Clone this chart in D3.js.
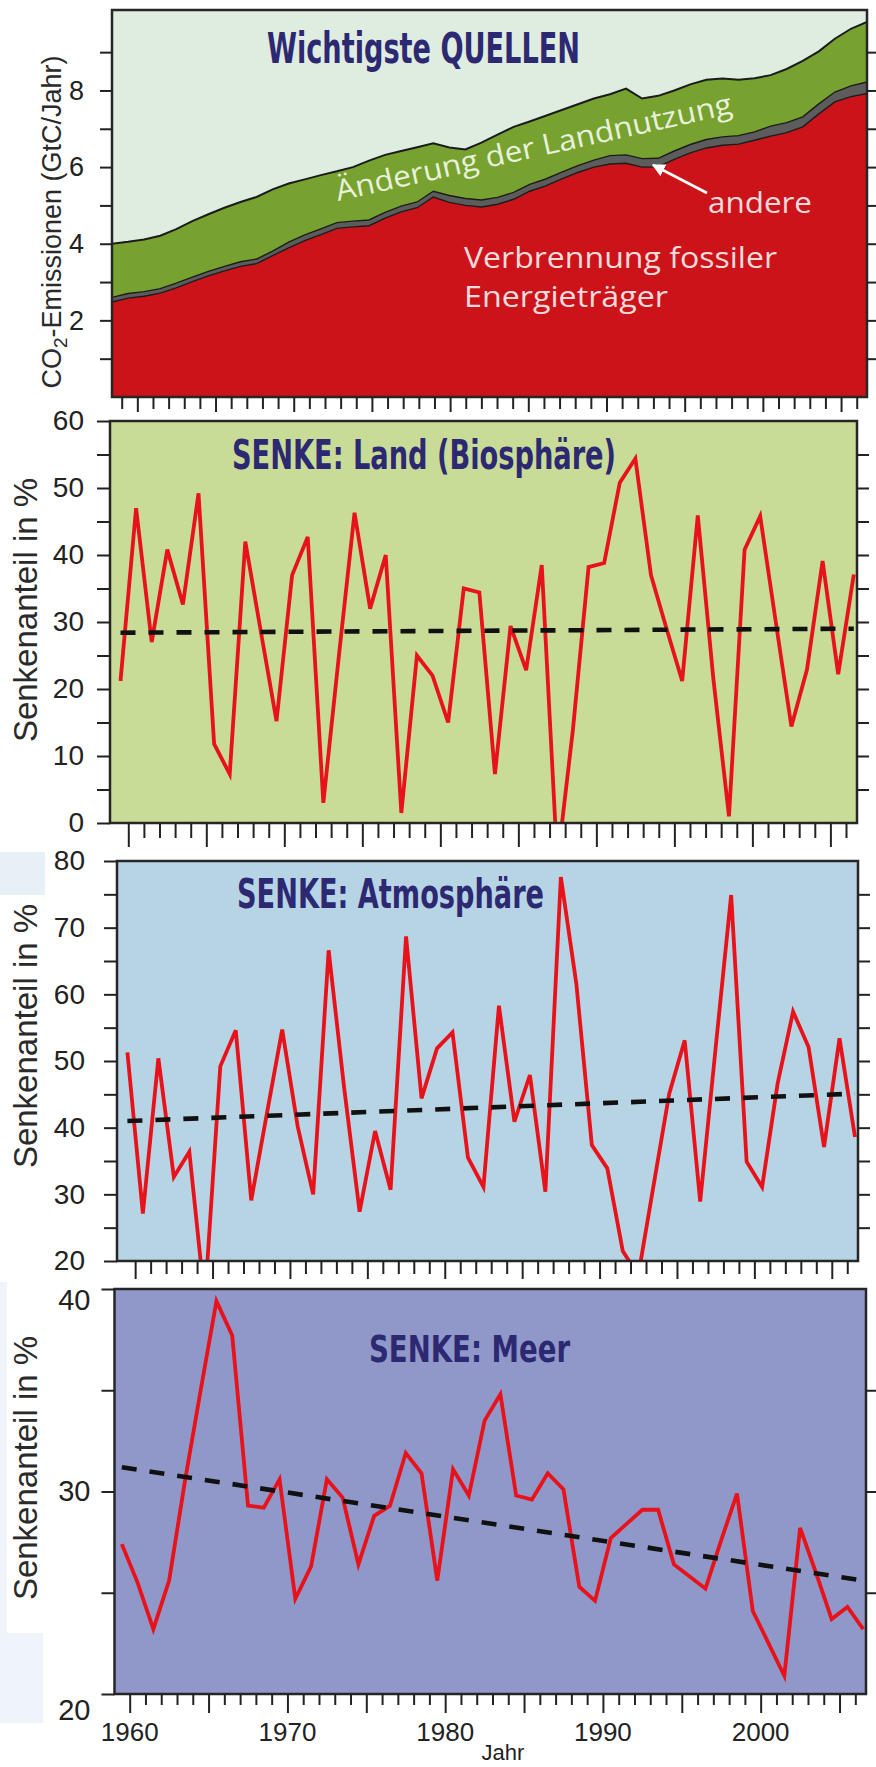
<!DOCTYPE html>
<html>
<head>
<meta charset="utf-8">
<script src="https://cdn.jsdelivr.net/npm/d3@7"></script>
<style>
  html, body { margin: 0; padding: 0; background: #fff; }
  svg { display: block; }
</style>
</head>
<body>
<svg id="chart" width="876" height="1767"></svg>
<script>
// ---- data -------------------------------------------------------------
const firstYear = 1959
const lastYear = 2006
const years = d3.range(firstYear, lastYear + 1)

// Sources, GtC per year (stacked: fossil, other, land use change)
const fossil = [2.48, 2.58, 2.63, 2.71, 2.85, 3.01, 3.16, 3.29, 3.41, 3.48, 3.69,
  3.89, 4.08, 4.24, 4.40, 4.44, 4.47, 4.67, 4.83, 4.94, 5.22,
  5.08, 5.00, 4.96, 5.03, 5.16, 5.37, 5.51, 5.69, 5.86, 6.00,
  6.08, 6.10, 6.00, 6.01, 6.20, 6.37, 6.50, 6.57, 6.60, 6.70,
  6.81, 6.90, 7.05, 7.39, 7.70, 7.84, 7.92]
const andere = [0.12, 0.12, 0.12, 0.12, 0.12, 0.12, 0.12, 0.12, 0.12, 0.12, 0.12,
  0.15, 0.15, 0.15, 0.15, 0.15, 0.15, 0.15, 0.15, 0.15, 0.15,
  0.18, 0.18, 0.18, 0.18, 0.18, 0.18, 0.18, 0.18, 0.18, 0.18,
  0.22, 0.22, 0.22, 0.22, 0.22, 0.22, 0.22, 0.22, 0.22, 0.22,
  0.26, 0.26, 0.26, 0.26, 0.26, 0.28, 0.30]
const landUse = [1.40, 1.35, 1.36, 1.38, 1.41, 1.46, 1.49, 1.53, 1.56, 1.62, 1.61,
  1.53, 1.45, 1.40, 1.34, 1.41, 1.55, 1.50, 1.44, 1.43, 1.25,
  1.25, 1.28, 1.50, 1.64, 1.71, 1.64, 1.65, 1.62, 1.60, 1.61,
  1.60, 1.73, 1.57, 1.63, 1.58, 1.57, 1.56, 1.52, 1.46, 1.40,
  1.33, 1.40, 1.46, 1.37, 1.39, 1.49, 1.57]

// Sink shares in %
const landSink = [21.2, 47.0, 27.0, 40.8, 32.6, 49.2, 11.8, 7.3, 42.0, 28.5, 15.2,
  37.0, 42.7, 3.0, 25.0, 46.3, 32.0, 40.0, 1.5, 25.0, 22.0,
  15.0, 35.0, 34.4, 7.3, 29.4, 22.8, 38.5, -6.0, 14.0, 38.2,
  38.8, 50.8, 54.4, 37.0, 29.0, 21.2, 45.9, 21.5, 1.0, 40.8,
  45.8, 30.0, 14.4, 22.9, 39.1, 22.2, 37.1]
const atmSink = [51.3, 27.1, 50.4, 32.6, 36.4, 14.0, 49.2, 54.6, 29.1, 42.0, 54.7,
  40.2, 30.0, 66.6, 46.0, 27.4, 39.5, 30.7, 68.7, 44.4, 51.9,
  54.3, 35.5, 31.1, 58.3, 40.9, 47.9, 30.4, 77.6, 61.6, 37.4,
  33.9, 21.5, 17.8, 31.5, 45.1, 53.1, 28.9, 52.0, 74.9, 34.9,
  31.1, 46.6, 57.4, 52.1, 37.1, 53.4, 38.6]
const oceanSink = [27.4, 25.5, 23.2, 25.6, 30.5, 35.0, 39.4, 37.7, 29.3, 29.2, 30.6,
  24.7, 26.3, 30.6, 29.7, 26.4, 28.8, 29.3, 31.9, 30.9, 25.6,
  31.1, 29.8, 33.5, 34.8, 29.8, 29.6, 30.9, 30.1, 25.3, 24.6,
  27.7, 28.4, 29.1, 29.1, 26.4, 25.8, 25.2, 27.6, 29.9, 24.1,
  22.5, 20.9, 28.2, 26.0, 23.7, 24.3, 23.2]

// Linear trends (value at first and last year)
const trendYears = [1959, 2006]
const landTrend = [28.4, 29.0]
const atmTrend = [41.0, 45.1]
const oceanTrend = [31.2, 25.6]

// Tick labels
const sourceLabels = [2, 4, 6, 8]
const landLabels = [0, 10, 20, 30, 40, 50, 60]
const atmLabels = [20, 30, 40, 50, 60, 70, 80]
const oceanLabels = [20, 30, 40]
const yearLabels = [1960, 1970, 1980, 1990, 2000]

// ---- styles -----------------------------------------------------------
const NUM_FONT = "'Liberation Sans', Arial, Helvetica, sans-serif"
const TITLE_FONT = "'Liberation Sans Narrow', 'DejaVu Sans Condensed', 'Liberation Sans', sans-serif"
const LABEL_FONT = "'Open Sans', 'Liberation Sans', sans-serif"
const TITLE_COLOR = '#2d2872'
const INK = '#222'
const LINE_RED = '#e8121b'

const svg = d3.select('#chart')
const defs = svg.append('defs')

// faint scan patches at the left edge
svg.append('rect').attr('x', 0).attr('y', 852).attr('width', 45).attr('height', 43).attr('fill', '#e8f0f7')
svg.append('rect').attr('x', 0).attr('y', 1282).attr('width', 7).attr('height', 351).attr('fill', '#eef4fa')
svg.append('rect').attr('x', 0).attr('y', 1633).attr('width', 43).attr('height', 90).attr('fill', '#eef4fa')

function frame(id, box, bg) {
  const g = svg.append('g').attr('class', id)
  g.append('rect')
    .attr('x', box.l).attr('y', box.t)
    .attr('width', box.r - box.l).attr('height', box.b - box.t)
    .attr('fill', bg)
  defs.append('clipPath').attr('id', 'clip-' + id)
    .append('rect')
    .attr('x', box.l).attr('y', box.t)
    .attr('width', box.r - box.l).attr('height', box.b - box.t)
  const plot = g.append('g').attr('clip-path', `url(#clip-${id})`)
  return { g, plot }
}

function border(g, box, w) {
  g.append('rect')
    .attr('x', box.l).attr('y', box.t)
    .attr('width', box.r - box.l).attr('height', box.b - box.t)
    .attr('fill', 'none').attr('stroke', '#262626').attr('stroke-width', w)
}

// tick marks only, using d3 axes
function tickAxis(g, axis, transform) {
  g.append('g')
    .attr('transform', transform)
    .call(axis.tickFormat(''))
    .call(s => s.select('.domain').remove())
    .call(s => s.selectAll('line').attr('stroke', INK).attr('stroke-width', 2))
}

function labelAxis(g, axis, transform, size) {
  const a = g.append('g')
    .attr('transform', transform)
    .call(axis)
    .attr('font-family', NUM_FONT)
    .attr('font-size', size)
  a.select('.domain').remove()
  a.selectAll('line').remove()
  a.selectAll('text').attr('fill', INK)
  return a
}

function title(g, txt, x, y, size, len) {
  g.append('text')
    .attr('x', x).attr('y', y)
    .attr('font-family', TITLE_FONT).attr('font-weight', 'bold')
    .attr('font-size', size)
    .attr('fill', TITLE_COLOR)
    .attr('textLength', len).attr('lengthAdjust', 'spacingAndGlyphs')
    .text(txt)
}

function yTitle(g, cx, cy, size) {
  return g.append('text')
    .attr('transform', `translate(${cx},${cy}) rotate(-90)`)
    .attr('text-anchor', 'middle')
    .attr('font-family', NUM_FONT)
    .attr('font-size', size)
    .attr('fill', '#2a2a2a')
}

// ---- panel 1: sources ---------------------------------------------------
{
  const box = { l: 112, r: 867, t: 10, b: 397 }
  const { g, plot } = frame('src', box, '#dfece0')
  const xa = d3.scaleLinear().domain([firstYear, lastYear]).range([box.l, box.r])
  const xt = d3.scaleLinear().domain([firstYear, lastYear]).range([121.7, 856.7])
  const y = d3.scaleLinear().domain([0, 10.1]).range([box.b, box.t])

  const rows = years.map((year, i) => ({ year, fossil: fossil[i], andere: andere[i], landUse: landUse[i] }))
  const layers = d3.stack().keys(['fossil', 'andere', 'landUse'])(rows)
  const fills = { fossil: '#cd131a', andere: '#5c5c5c', landUse: '#78a22f' }

  const area = d3.area()
    .x(d => xa(d.data.year))
    .y0(d => y(d[0]))
    .y1(d => y(d[1]))
  plot.selectAll('path.layer')
    .data(layers)
    .join('path')
    .attr('class', 'layer')
    .attr('d', area)
    .attr('fill', d => fills[d.key])

  const edge = d3.line().x(d => xa(d.data.year)).y(d => y(d[1]))
  plot.selectAll('path.edge')
    .data(layers)
    .join('path')
    .attr('class', 'edge')
    .attr('d', edge)
    .attr('fill', 'none')
    .attr('stroke', '#1b1b1b')
    .attr('stroke-width', d => d.key === 'landUse' ? 2 : 1.4)

  border(g, box, 2.5)

  // ticks
  tickAxis(g, d3.axisLeft(y).tickValues(d3.range(1, 10)).tickSize(12), `translate(${box.l},0)`)
  tickAxis(g, d3.axisRight(y).tickValues(d3.range(1, 10)).tickSize(10), `translate(${box.r},0)`)
  tickAxis(g, d3.axisBottom(xt).tickValues(years.filter(v => v % 5)).tickSize(12), `translate(0,${box.b})`)
  tickAxis(g, d3.axisBottom(xt).tickValues(years.filter(v => !(v % 5))).tickSize(15), `translate(0,${box.b})`)
  labelAxis(g, d3.axisLeft(y).tickValues(sourceLabels).tickSize(0).tickPadding(28), `translate(${box.l},0)`, 27)

  const t = yTitle(g, 61, 222, 27)
  t.append('tspan').text('CO')
  t.append('tspan').attr('font-size', 19).attr('dy', 6).text('2')
  t.append('tspan').attr('dy', -6).text('-Emissionen (GtC/Jahr)')

  title(g, 'Wichtigste QUELLEN', 267, 63, 42, 313)

  // in-plot labels
  g.append('text')
    .attr('transform', 'translate(338,201) rotate(-12.5)')
    .attr('font-family', LABEL_FONT).attr('font-size', 29)
    .attr('fill', '#e8f1dc')
    .attr('textLength', 405).attr('lengthAdjust', 'spacingAndGlyphs')
    .text('Änderung der Landnutzung')

  const pink = '#f8dcdd'
  g.append('text').attr('x', 708).attr('y', 213)
    .attr('font-family', LABEL_FONT).attr('font-size', 30).attr('fill', pink)
    .attr('textLength', 104).attr('lengthAdjust', 'spacingAndGlyphs')
    .text('andere')
  g.append('text').attr('x', 464).attr('y', 268)
    .attr('font-family', LABEL_FONT).attr('font-size', 29).attr('fill', pink)
    .attr('textLength', 313).attr('lengthAdjust', 'spacingAndGlyphs')
    .text('Verbrennung fossiler')
  g.append('text').attr('x', 464).attr('y', 307)
    .attr('font-family', LABEL_FONT).attr('font-size', 29).attr('fill', pink)
    .attr('textLength', 204).attr('lengthAdjust', 'spacingAndGlyphs')
    .text('Energieträger')

  defs.append('marker')
    .attr('id', 'arrow')
    .attr('viewBox', '0 0 10 10')
    .attr('refX', 9).attr('refY', 5)
    .attr('markerWidth', 5).attr('markerHeight', 5)
    .attr('markerUnits', 'strokeWidth')
    .attr('orient', 'auto')
    .append('path').attr('d', 'M0,0L10,5L0,10Z').attr('fill', '#ffffff')
  g.append('line')
    .attr('x1', 707).attr('y1', 193).attr('x2', 653).attr('y2', 165)
    .attr('stroke', '#ffffff').attr('stroke-width', 2.6)
    .attr('marker-end', 'url(#arrow)')
}

// ---- sink panels --------------------------------------------------------
function sinkPanel(cfg) {
  const { id, box, bg, yDomain, dataRange, values, trend } = cfg
  const { g, plot } = frame(id, box, bg)
  const x = d3.scaleLinear().domain([firstYear + 0.5, lastYear + 0.5]).range(dataRange)
  const y = d3.scaleLinear().domain(yDomain).range([box.b, box.t])

  const line = d3.line().x(d => x(d.year + 0.5)).y(d => y(d.v))
  plot.append('path')
    .datum(years.map((year, i) => ({ year, v: values[i] })))
    .attr('d', line)
    .attr('fill', 'none')
    .attr('stroke', LINE_RED)
    .attr('stroke-width', 3.8)
    .attr('stroke-linejoin', 'miter')

  plot.append('path')
    .datum(trendYears.map((year, i) => ({ year, v: trend[i] })))
    .attr('d', line)
    .attr('fill', 'none')
    .attr('stroke', '#111')
    .attr('stroke-width', 4.6)
    .attr('stroke-dasharray', '15,13')

  border(g, box, 2.5)

  const tickYears = years.filter(v => v >= 1960)
  tickAxis(g, d3.axisBottom(x).tickValues(tickYears.filter(v => v % 5)).tickSize(cfg.minor), `translate(0,${box.b})`)
  tickAxis(g, d3.axisBottom(x).tickValues(tickYears.filter(v => !(v % 5))).tickSize(cfg.major), `translate(0,${box.b})`)
  tickAxis(g, d3.axisLeft(y).tickValues(cfg.yTicks).tickSize(13), `translate(${box.l},0)`)
  tickAxis(g, d3.axisRight(y).tickValues(cfg.yTicks.filter(v => v > yDomain[0] && v < yDomain[1])).tickSize(12), `translate(${box.r},0)`)

  const la = labelAxis(g, d3.axisLeft(y).tickValues(cfg.labels).tickSize(0).tickPadding(cfg.labelPad),
    `translate(${box.l},0)`, cfg.labelSize)
  if (cfg.labelShift) la.selectAll('text').attr('transform', d => `translate(0,${cfg.labelShift(d)})`)

  yTitle(g, 37, cfg.titleY, 33).text('Senkenanteil in %')
  title(g, cfg.title, cfg.tx, cfg.ty, cfg.tsize, cfg.tlen)
  return { g, x }
}

sinkPanel({
  id: 'land', box: { l: 110, r: 857, t: 421, b: 823 }, bg: '#c9dc97',
  yDomain: [0, 60], dataRange: [120.5, 853.8], values: landSink, trend: landTrend,
  yTicks: d3.range(0, 61, 5), labels: landLabels, labelPad: 26, labelSize: 28,
  minor: 15, major: 24, titleY: 610,
  title: 'SENKE: Land (Biosphäre)', tx: 232, ty: 469, tsize: 41, tlen: 384
})

sinkPanel({
  id: 'atm', box: { l: 117, r: 858, t: 861, b: 1261 }, bg: '#b7d4e4',
  yDomain: [20, 80], dataRange: [127.4, 855], values: atmSink, trend: atmTrend,
  yTicks: d3.range(20, 81, 5), labels: atmLabels, labelPad: 32, labelSize: 28,
  minor: 13, major: 18, titleY: 1036,
  title: 'SENKE: Atmosphäre', tx: 237, ty: 908, tsize: 40, tlen: 307
})

const ocean = sinkPanel({
  id: 'ocean', box: { l: 114.5, r: 866, t: 1289, b: 1694 }, bg: '#9098c9',
  yDomain: [20, 40], dataRange: [121.8, 863.2], values: oceanSink, trend: oceanTrend,
  yTicks: d3.range(20, 41, 5), labels: oceanLabels, labelPad: 24, labelSize: 29,
  labelShift: d => d === 40 ? 11 : d === 20 ? 16 : 0,
  minor: 11, major: 19, titleY: 1468,
  title: 'SENKE: Meer', tx: 369, ty: 1362, tsize: 38, tlen: 201
})

// year labels under the last panel
ocean.g.selectAll('text.year')
  .data(yearLabels)
  .join('text')
  .attr('class', 'year')
  .attr('x', d => ocean.x(d))
  .attr('y', 1741)
  .attr('text-anchor', 'middle')
  .attr('font-family', NUM_FONT)
  .attr('font-size', 26)
  .attr('fill', INK)
  .text(d => d)

ocean.g.append('text')
  .attr('x', 503).attr('y', 1760)
  .attr('text-anchor', 'middle')
  .attr('font-family', NUM_FONT)
  .attr('font-size', 22)
  .attr('fill', INK)
  .text('Jahr')
</script>
</body>
</html>
